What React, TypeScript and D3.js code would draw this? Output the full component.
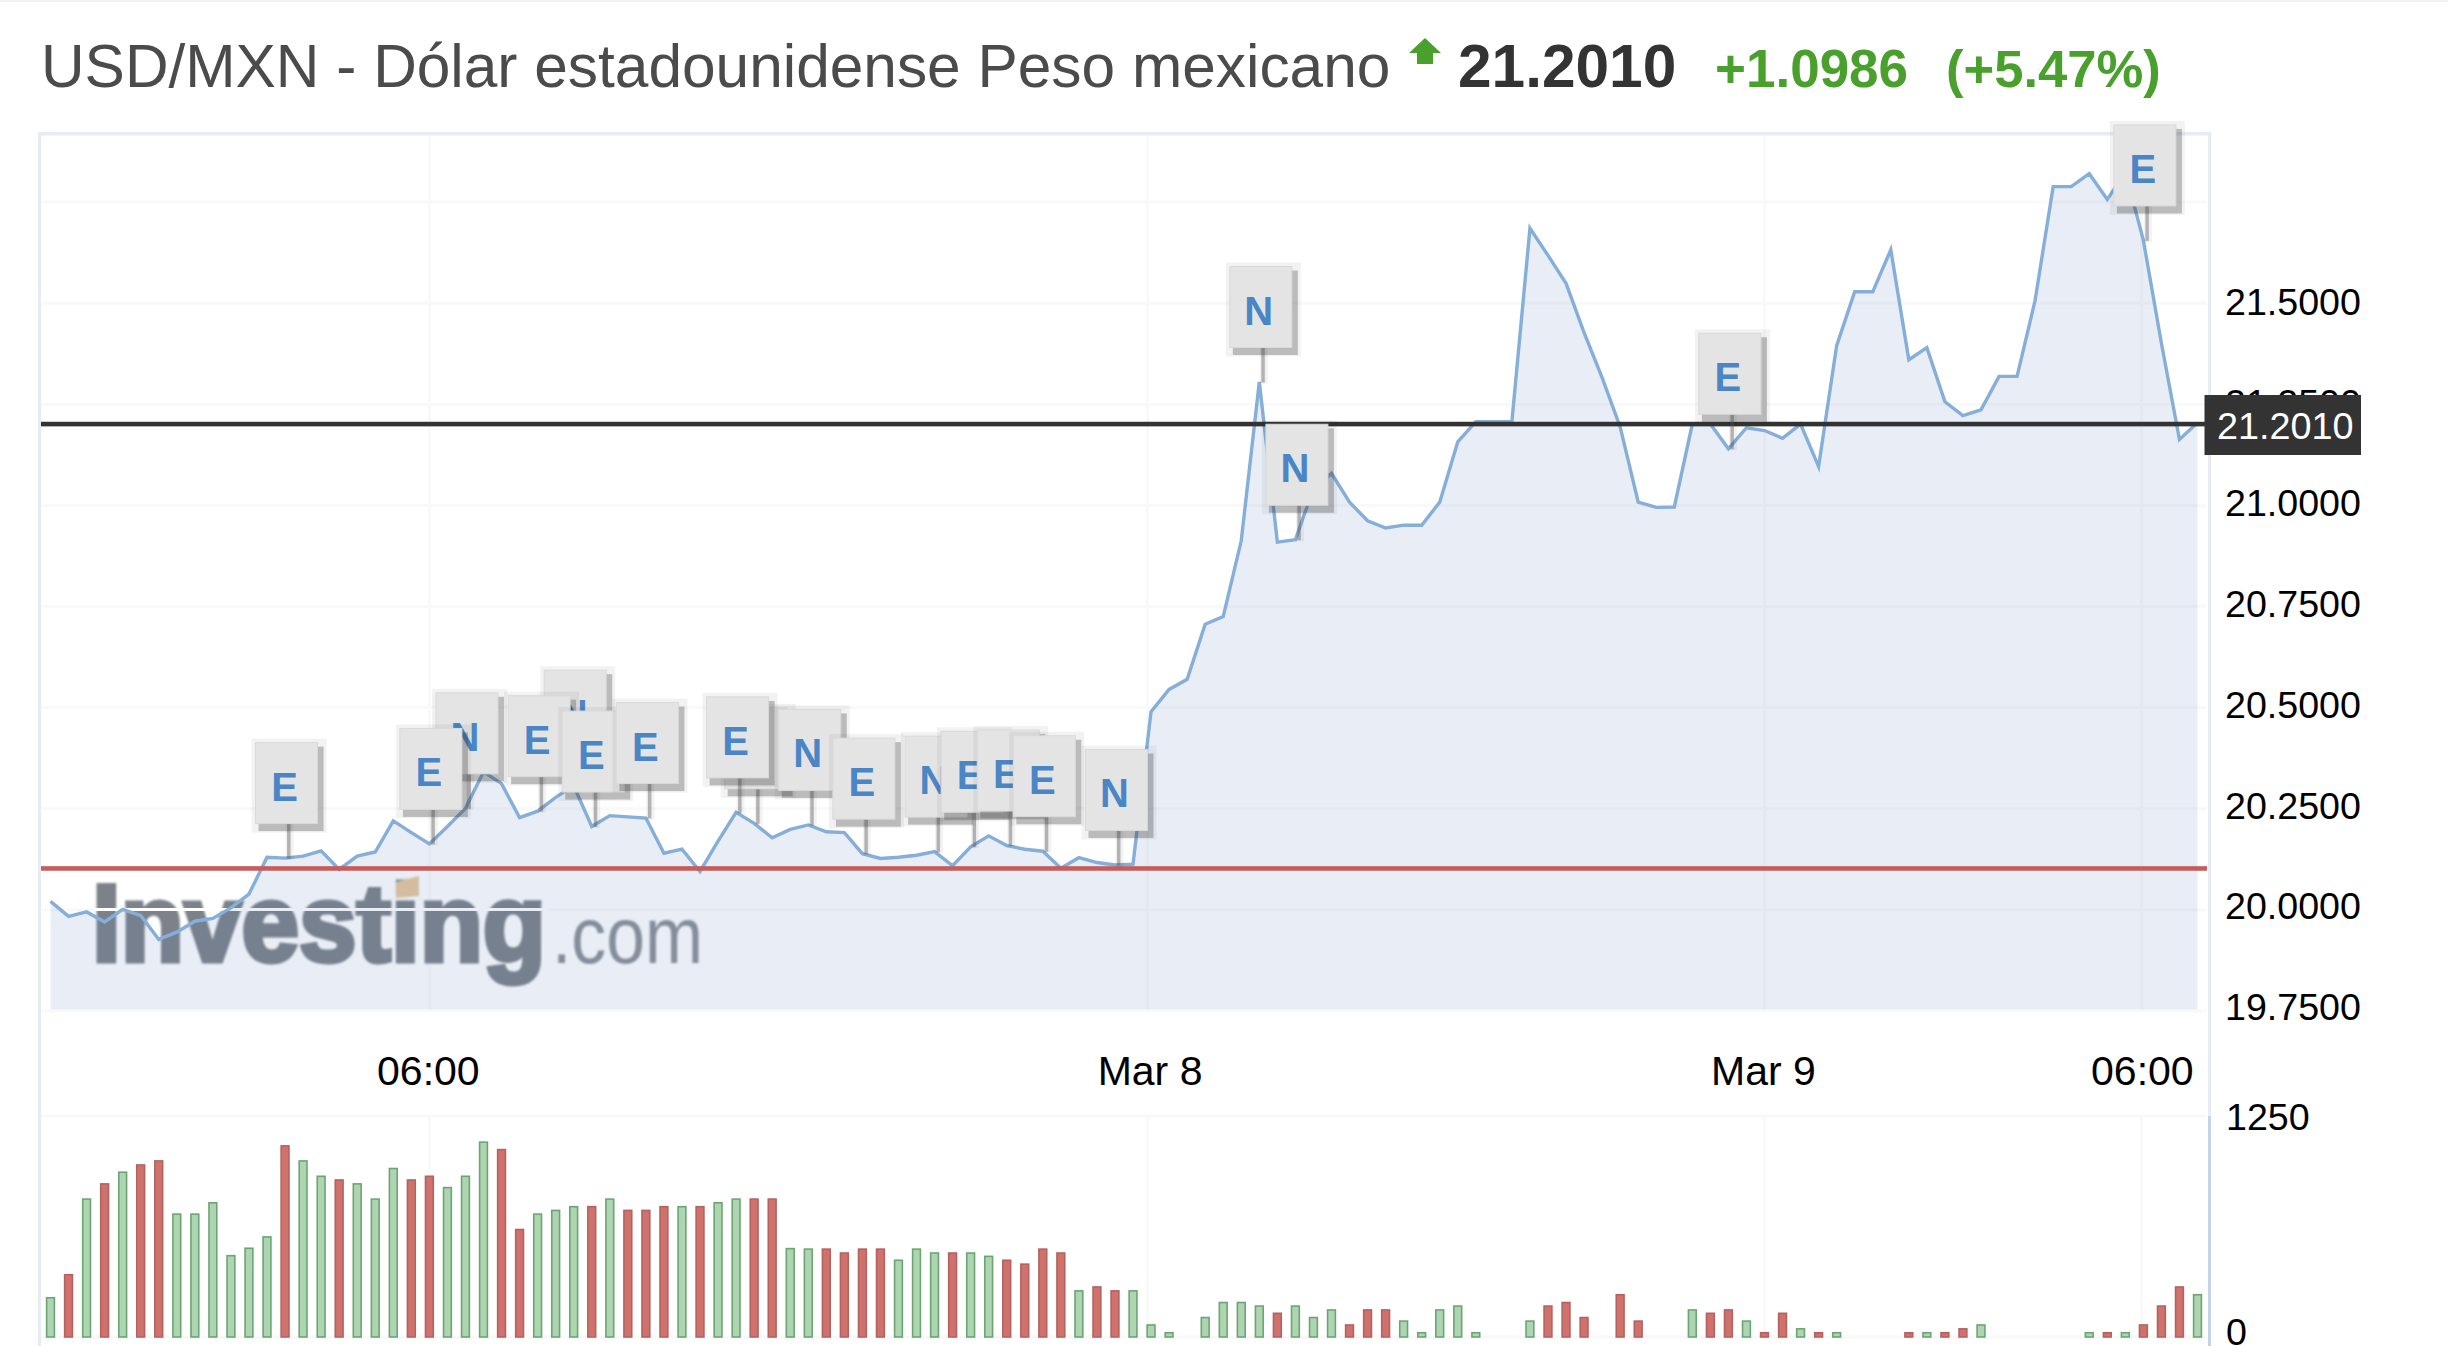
import React from "react";
import * as d3 from "d3";

const prices = [
  20.021, 19.984, 19.995, 19.97, 20.001, 19.986, 19.927, 19.945, 19.972, 19.979,
  20.005, 20.039, 20.13, 20.128, 20.133, 20.146, 20.1, 20.133, 20.143, 20.22,
  20.191, 20.163, 20.206, 20.251, 20.341, 20.312, 20.228, 20.244, 20.278, 20.307,
  20.206, 20.233, 20.23, 20.227, 20.14, 20.15, 20.095, 20.17, 20.241, 20.214,
  20.178, 20.199, 20.21, 20.193, 20.191, 20.139, 20.127, 20.13, 20.135, 20.144,
  20.109, 20.156, 20.183, 20.159, 20.15, 20.145, 20.103, 20.129, 20.117, 20.111,
  20.113, 20.49, 20.545, 20.57, 20.706, 20.725, 20.913, 21.305, 20.909, 20.915,
  21.042, 21.079, 21.008, 20.962, 20.944, 20.951, 20.951, 21.008, 21.157, 21.207,
  21.207, 21.207, 21.685, 21.618, 21.549, 21.427, 21.316, 21.194, 21.008, 20.995,
  20.996, 21.201, 21.201, 21.14, 21.192, 21.185, 21.166, 21.201, 21.096, 21.395,
  21.528, 21.528, 21.632, 21.36, 21.39, 21.256, 21.222, 21.236, 21.319, 21.319,
  21.507, 21.788, 21.788, 21.82, 21.756, 21.825, 21.655, 21.401, 21.163, 21.204,
];

const volumes: (number | null)[] = [
  222, 352, 780, 866, 932, 973, 996, 695, 695, 759,
  460, 502, 566, 1081, 996, 909, 888, 866, 780, 953,
  888, 909, 845, 909, 1102, 1060, 608, 695, 716, 737,
  737, 780, 716, 716, 737, 737, 737, 759, 780, 780,
  780, 500, 497, 497, 475, 497, 497, 434, 497, 475,
  475, 475, 456, 434, 412, 497, 475, 261, 283, 261,
  261, 68, 24, null, 110, 195, 195, 175, 134, 175,
  110, 153, 68, 153, 153, 90, 24, 153, 175, 24,
  null, null, 90, 175, 195, 110, null, 239, 90, null,
  null, 153, 134, 153, 90, 24, 134, 46, 24, 24,
  null, null, null, 24, 24, 24, 46, 68, null, null,
  null, null, null, 24, 24, 24, 68, 175, 283, 239,
];

// "g" for rising samples and "r" for falling ones, one letter per sample.
const volumeDirections = [
  "g","r","g","r","g","r","r","g","g","g",
  "g","g","g","r","g","g","r","g","g","g",
  "r","r","g","g","g","r","r","g","g","g",
  "r","g","r","r","r","g","r","g","g","r",
  "r","g","g","r","r","r","r","g","g","g",
  "r","g","g","r","r","r","r","g","r","r",
  "g","g","g","g","g","g","g","g","r","g",
  "g","g","r","r","r","g","g","g","g","g",
  "g","g","g","r","r","r","g","r","r","g",
  "g","g","r","r","g","r","r","g","r","g",
  "g","g","g","r","g","r","r","g","g","g",
  "g","g","g","g","r","g","r","r","r","g",
];

const flagOrder = [13, 23, 21, 29, 27, 30, 33, 39, 38, 42, 45, 49, 51, 53, 55, 59, 67, 69, 93, 116];
const flagLetters = ["E", "N", "E", "N", "E", "E", "E", "E", "E", "N", "E", "N", "E", "E", "E", "N", "N", "N", "E", "E"];

const yTicks = [19.75, 20, 20.25, 20.5, 20.75, 21, 21.25, 21.5];
const yGrid = [19.75, 20, 20.25, 20.5, 20.75, 21, 21.25, 21.5, 21.75];
const gridSlots = [21, 60.8, 95, 115.9];
const labelSlots = [21, 61, 95, 116];
const xLabels = ["06:00", "Mar 8", "Mar 9", "06:00"];
const volumeTicks = [0, 1250];

const lastPrice = 21.201;
const prevClose = 20.1024;
const titleText = "USD/MXN - Dólar estadounidense Peso mexicano";
const priceText = "21.2010";
const changeText = "+1.0986";
const pctText = "(+5.47%)";

const FONT = "'Liberation Sans', Arial, sans-serif";
const x = d3.scaleLinear().domain([0, 119]).range([50.5, 2197.5]);
const y = d3.scaleLinear().domain([19.75, 21.75]).range([1011, 202]);
const yLabel = d3.scaleLinear().domain([19.75, 21.5]).range([1020, 315]);
const yv = d3.scaleLinear().domain([0, 1250]).range([1337, 1116]);

const line = d3.line<number>().x((_, i) => x(i)).y((d) => y(d));
const area = d3.area<number>().x((_, i) => x(i)).y0(y(19.75) - 1.5).y1((d) => y(d));

const GRID = "#f9f9fa";
const BORDER = "#e8ebf3";

function Flag({ index, letter }: { index: number; letter: string }) {
  const tip = y(prices[index]);
  const pole = x(index) + 3.5;
  const top = tip - 115.5;
  const left = pole - 33;
  const w = 62;
  const h = 81;
  return (
    <g>
      <rect x={pole - 3} y={top + h} width={8} height={36} fill="rgba(0,0,0,0.05)" />
      <rect x={pole - 1.5} y={top + h} width={3.5} height={35} fill="rgba(90,90,90,0.42)" />
      <rect x={left - 4} y={top - 4} width={w + 13} height={h + 13} fill="rgba(0,0,0,0.05)" />
      <rect x={left + 3} y={top + 4} width={w + 3} height={h + 3.5} fill="rgba(60,60,60,0.3)" />
      <rect x={left} y={top} width={w} height={h} fill="#e4e4e4" stroke="#d9d9d9" strokeWidth={1} />
      <text x={left + 29} y={top + 58} textAnchor="middle" fontFamily={FONT} fontWeight={700} fontSize={40} fill="#4a86c5">
        {letter}
      </text>
    </g>
  );
}

export default function App() {
  return (
    <svg
      width={2448}
      height={1346}
      viewBox="0 0 2448 1346"
      style={{ position: "fixed", left: 0, top: 0, display: "block", background: "#fff" }}
    >
      <rect x={0} y={0} width={2448} height={2} fill="#f3f3f3" />

      {/* header */}
      <text x={41} y={87} fontFamily={FONT} fontSize={60.4} fill="#4b4b4b">{titleText}</text>
      <polygon points="1425,38 1441,53 1433,53 1433,64 1417,64 1417,53 1409,53" fill="#4aa02c" />
      <text x={1458} y={87} fontFamily={FONT} fontWeight={700} fontSize={60.4} fill="#333">{priceText}</text>
      <text x={1715} y={87} fontFamily={FONT} fontWeight={700} fontSize={53} fill="#4aa02c">{changeText}</text>
      <text x={1946} y={87} fontFamily={FONT} fontWeight={700} fontSize={52.6} fill="#4aa02c">{pctText}</text>

      {/* grid */}
      {yGrid.map((t) => (
        <rect key={t} x={41} y={y(t) - 1.5} width={2166} height={3} fill={GRID} />
      ))}
      <rect x={41} y={yv(1250) - 1.5} width={2166} height={3} fill={GRID} />
      <rect x={41} y={yv(0) - 1.5} width={2166} height={3} fill="#f8f8f8" />
      {gridSlots.map((s) => (
        <g key={s}>
          <rect x={x(s) - 1.5} y={136} width={3} height={875} fill={GRID} />
          <rect x={x(s) - 1.5} y={1116} width={3} height={221} fill={GRID} />
        </g>
      ))}

      {/* watermark */}
      <g style={{ filter: "blur(0.9px)" }}>
        <text
          x={92}
          y={961}
          fontFamily={FONT}
          fontWeight={700}
          fontSize={110}
          fill="#7d828a"
          stroke="#7d828a"
          strokeWidth={5}
          textLength={454}
          lengthAdjust="spacingAndGlyphs"
        >
          Investing
        </text>
        <text x={552} y={963} fontFamily={FONT} fontSize={80} fill="#8d9198" textLength={151} lengthAdjust="spacingAndGlyphs">
          .com
        </text>
        <polygon points="396,882 419,876 419,896 396,898" fill="#e6c89b" />
      </g>
      <rect x={94} y={908} width={454} height={3} fill="#fff" />

      {/* area, line, reference lines */}
      <path d={area(prices) ?? ""} fill="rgb(72,113,180)" fillOpacity={0.12} />
      <path d={line(prices) ?? ""} fill="none" stroke="#85aed8" strokeWidth={3.4} strokeLinejoin="miter" />
      <rect x={41} y={y(lastPrice) - 2.3} width={2165} height={4.6} fill="#333" />
      <rect x={41} y={y(prevClose) - 2.3} width={2166} height={4.6} fill="#c45e5e" />

      {/* borders */}
      <rect x={38} y={132} width={2173} height={3.5} fill={BORDER} />
      <rect x={38} y={132} width={3} height={1214} fill={BORDER} />
      <rect x={2208} y={132} width={3} height={984} fill={BORDER} />
      <rect x={2208} y={1116} width={3} height={230} fill="#c6d4e8" />

      {/* flags */}
      {flagOrder.map((idx, i) => (
        <Flag key={idx} index={idx} letter={flagLetters[i]} />
      ))}

      {/* volume */}
      {volumes.map((v, i) =>
        v == null ? null : (
          <rect
            key={i}
            x={x(i) - 3.9}
            y={yv(v)}
            width={7.8}
            height={yv(0) - yv(v)}
            fill={volumeDirections[i] === "g" ? "#aed4b1" : "#cf726d"}
            stroke={volumeDirections[i] === "g" ? "#6ba672" : "#b5625f"}
            strokeWidth={1.6}
          />
        )
      )}

      {/* axes */}
      {yTicks.map((t) => (
        <text key={t} x={2225} y={yLabel(t)} fontFamily={FONT} fontSize={37.6} fill="#000">
          {t.toFixed(4)}
        </text>
      ))}
      <rect x={2204.5} y={395} width={156.5} height={60} fill="#333" />
      <text x={2217} y={439} fontFamily={FONT} fontSize={37.8} fill="#fff">{priceText}</text>
      {xLabels.map((l, i) => (
        <text key={i} x={x(labelSlots[i]) - 1} y={1085} textAnchor="middle" fontFamily={FONT} fontSize={41} fill="#000">
          {l}
        </text>
      ))}
      {volumeTicks.map((t) => (
        <text key={t} x={2226} y={t === 0 ? 1345 : yv(t) + 14} fontFamily={FONT} fontSize={37.6} fill="#000">
          {t}
        </text>
      ))}
    </svg>
  );
}
